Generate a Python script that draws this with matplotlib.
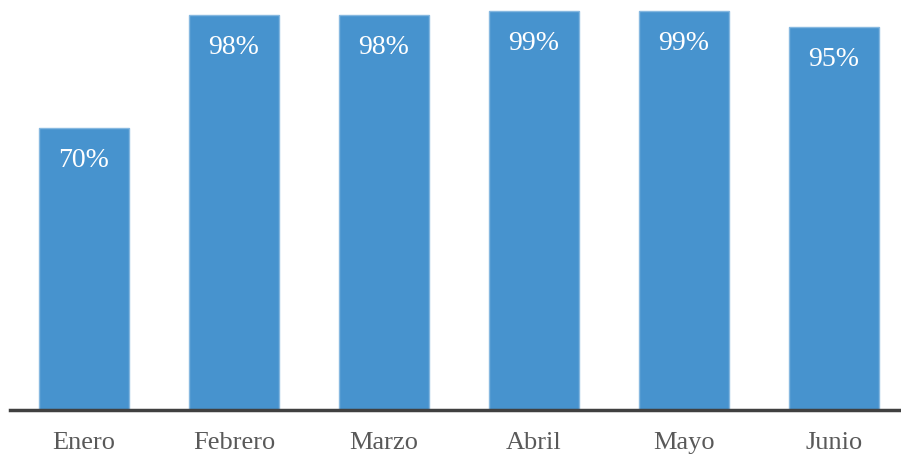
import matplotlib
matplotlib.use('Agg')
import matplotlib.pyplot as plt

plt.rcParams['font.family'] = ['Liberation Serif', 'DejaVu Serif']

meses = ['Enero', 'Febrero', 'Marzo', 'Abril', 'Mayo', 'Junio']
valores = [70, 98, 98, 99, 99, 95]
etiquetas = ['70%', '98%', '98%', '99%', '99%', '95%']

fig = plt.figure(figsize=(9.01, 4.55), dpi=100)
ax = fig.add_axes([10 / 901, 45 / 455, 890 / 901, 403 / 455])

x = range(len(meses))
bars = ax.bar(x, valores, width=0.6, color='#4793CE', edgecolor='#86B8E0', linewidth=1)

# etiquetas de valor dentro de la barra
for b, lab in zip(bars, etiquetas):
    ax.text(b.get_x() + b.get_width() / 2, b.get_height() - 8.1, lab,
            ha='center', va='center', color='white', fontsize=20)

ax.set_xlim(-0.493, 5.44)
ax.set_ylim(0, 100)
ax.set_xticks(list(x))
ax.set_xticklabels(meses, fontsize=19, color='#595959')
ax.tick_params(axis='x', length=0, pad=16)
ax.set_yticks([])
for s in ['top', 'right', 'left']:
    ax.spines[s].set_visible(False)
ax.spines['bottom'].set_color('#404040')
ax.spines['bottom'].set_linewidth(2.5)

fig.savefig('out.png', dpi=100)
